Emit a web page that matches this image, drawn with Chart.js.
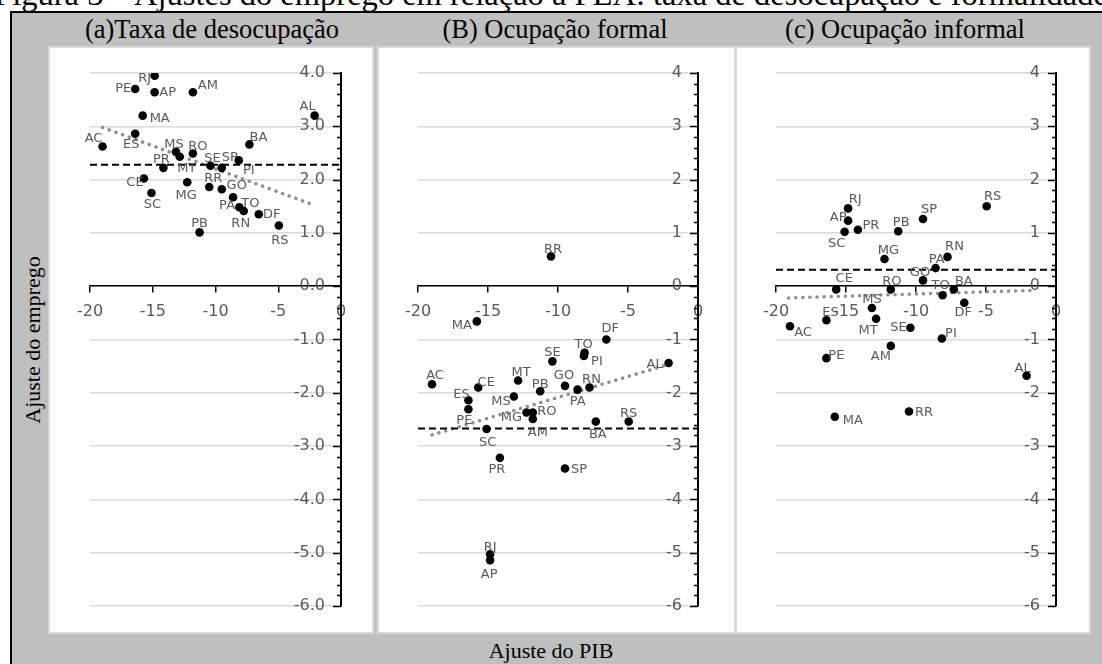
<!DOCTYPE html>
<html>
<head>
<meta charset="utf-8">
<script src="https://cdn.jsdelivr.net/npm/chart.js@4.4.0/dist/chart.umd.min.js"></script>
<style>
  body { margin: 0; width: 1102px; height: 664px; overflow: hidden; background: #fff; position: relative; font-family: "Liberation Serif", serif; }
  #titulo { position: absolute; left: -20px; top: -21px; width: 1142px; text-align: center; white-space: nowrap; font-size: 32.5px; line-height: 31px; }
  #moldura { position: absolute; left: 10px; top: 11px; width: 1100px; height: 660px; background: #bfbfbf; border-left: 2px solid #000; border-top: 2px solid #000; }
  .painel { position: absolute; top: 46px; height: 584px; background: #fff; border: 2px solid #d9d9d9; }
  .painel canvas { display: block; }
  .tit { position: absolute; top: 17px; width: 400px; margin-left: -200px; text-align: center; white-space: nowrap; font-size: 26.5px; line-height: 25px; }
  #eixo-x { position: absolute; left: 351px; top: 640px; width: 400px; text-align: center; font-size: 22px; line-height: 22px; }
  #eixo-y { position: absolute; left: 33px; top: 340px; transform: translate(-50%, -50%) rotate(-90deg); white-space: nowrap; font-size: 22px; line-height: 22px; }
</style>
</head>
<body>
<div id="titulo">Figura 3 – Ajustes do emprego em relação à PEA: taxa de desocupação e formalidade</div>
<div id="moldura"></div>
<div class="tit" style="left:212px">(a)Taxa de desocupação</div>
<div class="tit" style="left:555px">(B) Ocupação formal</div>
<div class="tit" style="left:905px">(c) Ocupação informal</div>
<div class="painel" style="left:48px;width:322px"><canvas id="g1" width="322" height="584"></canvas></div>
<div class="painel" style="left:377px;width:355px"><canvas id="g2" width="355" height="584"></canvas></div>
<div class="painel" style="left:735px;width:352px"><canvas id="g3" width="352" height="584"></canvas></div>
<div id="eixo-y">Ajuste do emprego</div>
<div id="eixo-x">Ajuste do PIB</div>

<script>
const estados = ['AC','AL','AM','AP','BA','CE','DF','ES','GO','MA','MG','MS','MT','PA','PB','PE','PI','PR','RJ','RN','RO','RR','RS','SC','SE','SP','TO'];
const ajustePib = [-19.0,-2.1,-11.8,-14.85,-7.3,-15.7,-6.55,-16.4,-9.5,-15.8,-12.25,-13.15,-12.85,-8.6,-11.27,-16.4,-8.15,-14.15,-14.85,-7.75,-11.8,-10.5,-4.95,-15.1,-10.4,-9.5,-8.1];
const desocupacao = [2.62,3.20,3.64,3.64,2.66,2.02,1.35,2.86,1.82,3.20,1.95,2.52,2.43,1.67,1.01,3.70,2.36,2.22,3.95,1.41,2.49,1.86,1.14,1.75,2.26,2.22,1.48];
const formal = [-1.84,-1.44,-2.49,-5.14,-2.54,-1.90,-1.00,-2.14,-1.87,-0.66,-2.37,-2.07,-1.77,-1.94,-1.97,-2.31,-1.31,-3.22,-5.03,-1.90,-2.37,0.56,-2.54,-2.68,-1.41,-3.42,-1.25];
const informal = [-0.75,-1.68,-1.12,1.23,-0.06,-0.06,-0.31,-0.64,0.11,-2.45,0.51,-0.41,-0.61,0.34,1.03,-1.35,-0.98,1.06,1.46,0.55,-0.06,-2.35,1.50,1.02,-0.78,1.26,-0.17];

// linhas de referência (média) e tendência linear
const mediaDesocupacao = 2.28;
const mediaFormal = -2.67;
const mediaInformal = 0.31;
const tendDesocupacaoX = [-19.0, -2.25];
const tendDesocupacaoY = [2.98, 1.53];
const tendFormalX = [-19.0, -2.0];
const tendFormalY = [-2.79, -1.46];
const tendInformalX = [-19.1, -1.85];
const tendInformalY = [-0.22, -0.08];

const ticksX = [-20, -15, -10, -5, 0];

// deslocamento dos rótulos (px) em cada painel
const rotulos1 = {RJ:[-10,3],PE:[-12,0],AP:[13,0],AM:[15,-7],MA:[17,3],AL:[-7,-9],AC:[-9,-8],ES:[-4,11],MS:[-2,-7],RO:[5,-7],MT:[7,12],PR:[-2,-8],SE:[2,-7],SP:[8,-10],PI:[10,10],BA:[9,-7],CE:[-9,4],SC:[1,12],MG:[-1,13],RR:[4,-8],GO:[15,-4],PA:[-6,8],TO:[11,-4],RN:[-3,13],DF:[13,0],RS:[1,15],PB:[0,-9]};
const rotulos2 = {RR:[2,-7],MA:[-15,4],DF:[4,-11],TO:[-1,-8],PI:[13,6],SE:[0,-9],AL:[-14,2],AC:[3,-9],MT:[3,-8],CE:[8,-5],GO:[-1,-10],PA:[0,12],RN:[2,-8],PB:[0,-7],MS:[-13,5],ES:[-7,-6],PE:[-4,11],MG:[-15,5],RO:[14,-1],AM:[5,14],BA:[2,13],RS:[0,-8],SC:[1,14],PR:[-3,12],SP:[14,1],RJ:[0,-7],AP:[-1,14]};
const rotulos3 = {RS:[6,-10],RJ:[7,-9],AP:[-10,-3],SP:[6,-9],SC:[-8,12],PR:[13,-4],PB:[3,-9],MG:[4,-8],RN:[7,-10],PA:[1,-8],GO:[-3,-8],CE:[8,-11],RO:[1,-8],BA:[10,-8],TO:[-2,-10],DF:[-1,10],MS:[0,-8],ES:[4,-8],MT:[-8,12],AC:[13,6],SE:[-12,0],PI:[9,-5],AM:[-10,11],PE:[10,-3],AL:[-4,-7],MA:[18,4],RR:[15,1]};

const pluginRotulos = {
  id: 'rotulos',
  afterDatasetsDraw(chart, args, opts) {
    const ctx = chart.ctx;
    const meta = chart.getDatasetMeta(0);
    ctx.save();
    ctx.font = '13px "DejaVu Sans"';
    ctx.fillStyle = '#595959';
    ctx.textAlign = 'center';
    ctx.textBaseline = 'middle';
    meta.data.forEach((pt, i) => {
      const d = opts.desloc[estados[i]] || [0, -9];
      ctx.fillText(estados[i], pt.x + d[0], pt.y + d[1]);
    });
    ctx.restore();
  }
};

// marcas e rótulos do eixo vertical, do lado de dentro
const pluginEixoY = {
  id: 'eixoY',
  beforeDatasetsDraw(chart, args, opts) {
    const s = chart.scales.y;
    const x0 = chart.chartArea.right;
    const ctx = chart.ctx;
    ctx.save();
    ctx.strokeStyle = '#000';
    ctx.lineWidth = 1.5;
    for (let v = s.min; v <= s.max + 1e-9; v += 0.2) {
      const y = Math.round(s.getPixelForValue(v)) + 0.5;
      const maior = Math.abs(v - Math.round(v)) < 1e-6;
      ctx.beginPath();
      ctx.moveTo(x0 - (maior ? 8 : 4), y);
      ctx.lineTo(x0, y);
      ctx.stroke();
    }
    ctx.font = '16px "DejaVu Sans"';
    ctx.fillStyle = '#595959';
    ctx.textAlign = 'right';
    ctx.textBaseline = 'middle';
    s.ticks.forEach(t => ctx.fillText(t.label, x0 - 16, s.getPixelForValue(t.value)));
    ctx.restore();
  }
};

const criarPainel = (id, serie, media, tendX, tendY, casas, desloc, padding) => {
  const pontos = ajustePib.map((x, i) => ({x, y: serie[i]}));
  const linhaMedia = [{x: ticksX[0], y: media}, {x: ticksX[ticksX.length - 1], y: media}];
  const linhaTend = tendX.map((x, i) => ({x, y: tendY[i]}));

  new Chart(document.getElementById(id), {
    type: 'scatter',
    data: {
      datasets: [
        { data: pontos, pointRadius: 4.3, pointBackgroundColor: '#000', pointBorderColor: '#000', pointBorderWidth: 0 },
        { data: linhaMedia, showLine: true, borderColor: '#000', borderWidth: 2, borderDash: [7, 4], pointRadius: 0 },
        { data: linhaTend, showLine: true, borderColor: '#8f8f8f', borderWidth: 3.5, borderDash: [0.1, 7], borderCapStyle: 'round', pointRadius: 0 }
      ]
    },
    options: {
      responsive: false,
      animation: false,
      layout: { padding },
      plugins: {
        legend: { display: false },
        tooltip: { enabled: false },
        rotulos: { desloc }
      },
      scales: {
        x: {
          type: 'linear',
          position: { y: 0 },
          min: -20, max: 0,
          afterBuildTicks: (s) => { s.ticks = ticksX.map(v => ({value: v})); },
          grid: { drawOnChartArea: false, drawTicks: true, tickLength: 6, color: '#000', lineWidth: 1.5 },
          border: { display: true, color: '#000', width: 1.5 },
          ticks: { color: '#595959', font: { family: 'DejaVu Sans', size: 16 }, padding: 10, maxRotation: 0, autoSkip: false }
        },
        y: {
          type: 'linear',
          position: 'right',
          min: -6, max: 4,
          ticks: { stepSize: 1, display: false, callback: (v) => v.toFixed(casas) },
          grid: { color: '#d9d9d9', lineWidth: 1.5, drawTicks: false },
          border: { display: true, color: '#000', width: 2 }
        }
      }
    },
    plugins: [pluginEixoY, pluginRotulos]
  });
};

criarPainel('g1', desocupacao, mediaDesocupacao, tendDesocupacaoX, tendDesocupacaoY, 1, rotulos1, {left: 40, right: 31, top: 25, bottom: 26});
criarPainel('g2', formal, mediaFormal, tendFormalX, tendFormalY, 0, rotulos2, {left: 39, right: 36, top: 25, bottom: 26});
criarPainel('g3', informal, mediaInformal, tendInformalX, tendInformalY, 0, rotulos3, {left: 39, right: 33, top: 25, bottom: 26});
</script>
</body>
</html>
